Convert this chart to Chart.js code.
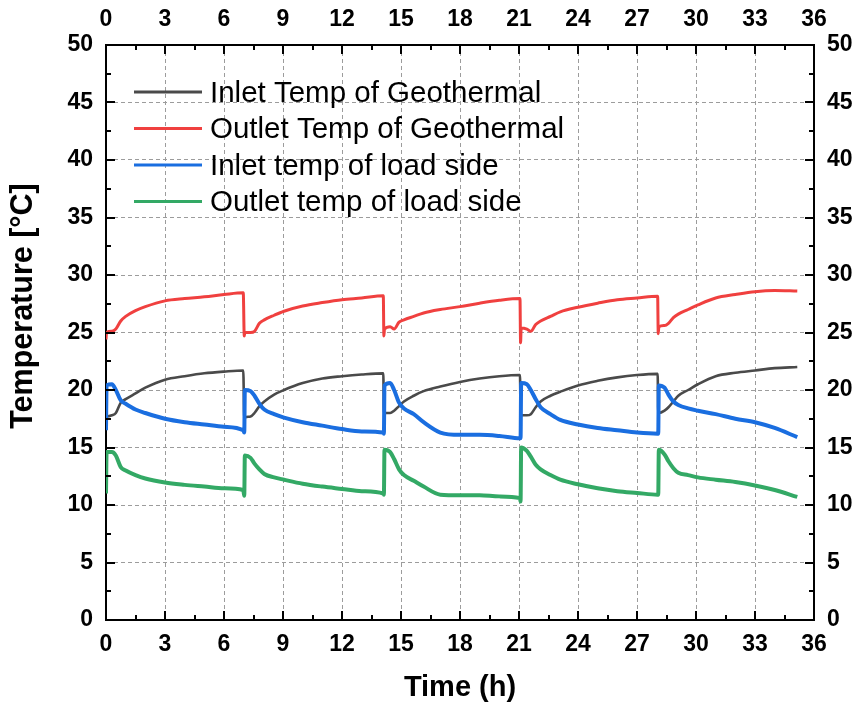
<!DOCTYPE html>
<html>
<head>
<meta charset="utf-8">
<title>Temperature vs Time</title>
<script src="https://cdn.jsdelivr.net/npm/chart.js@4.4.0/dist/chart.umd.min.js"></script>
<style>
  html, body { margin: 0; padding: 0; background: #fff; }
  #wrap { width: 856px; height: 705px; }
</style>
</head>
<body>
<div id="wrap"><canvas id="tempChart" width="856" height="705"></canvas></div>
<script>
// sample times in hours, five 7-hour cycles
const times = [
  0, 0.03, 0.3, 0.5, 0.75, 1.0, 1.5, 2, 3, 4, 5, 6, 6.98,
  7.03, 7.06, 7.35, 7.55, 7.8, 8.05, 8.55, 9.05, 10, 11, 12, 13, 14.1,
  14.13, 14.16, 14.45, 14.65, 14.9, 15.15, 15.65, 16.15, 17, 18, 19, 20, 21.05,
  21.08, 21.11, 21.4, 21.6, 21.85, 22.1, 22.6, 23.1, 24, 25, 26, 27, 28.05,
  28.08, 28.11, 28.4, 28.6, 28.85, 29.1, 29.6, 30.1, 31, 32, 33, 34, 35.15
];

const inletGeo = [
  17.7, 17.7, 17.8, 18.0, 18.9, 19.2, 19.7, 20.2, 20.9, 21.2, 21.45, 21.6, 21.7,
  17.5, 17.6, 17.7, 18.0, 18.6, 19.0, 19.6, 20.0, 20.6, 21.0, 21.2, 21.35, 21.45,
  18.0, 18.0, 18.0, 18.2, 18.6, 19.0, 19.5, 19.9, 20.3, 20.7, 21.0, 21.2, 21.3,
  17.9, 17.8, 17.8, 17.9, 18.5, 19.0, 19.5, 19.85, 20.4, 20.8, 21.1, 21.3, 21.4,
  18.0, 18.0, 18.2, 18.5, 19.0, 19.5, 20.0, 20.5, 21.2, 21.5, 21.7, 21.9, 22.0
];

const outletGeo = [
  24.4, 25.0, 25.1, 25.3, 26.0, 26.4, 26.9, 27.25, 27.75, 27.95, 28.1, 28.3, 28.45,
  24.7, 25.0, 25.0, 25.1, 25.8, 26.1, 26.5, 26.85, 27.3, 27.6, 27.85, 28.0, 28.2,
  24.7, 25.3, 25.5, 25.3, 25.9, 26.1, 26.4, 26.7, 27.0, 27.25, 27.55, 27.8, 27.95,
  24.1, 25.4, 25.3, 25.1, 25.7, 26.0, 26.4, 26.8, 27.2, 27.55, 27.85, 28.0, 28.15,
  24.9, 25.5, 25.6, 25.8, 26.3, 26.6, 27.0, 27.4, 28.0, 28.3, 28.55, 28.65, 28.6
];

const inletLoad = [
  16.5, 20.4, 20.5, 20.0, 19.1, 18.8, 18.3, 18.0, 17.5, 17.2, 17.0, 16.8, 16.5,
  16.3, 20.0, 19.9, 19.5, 18.8, 18.3, 17.9, 17.6, 17.2, 16.9, 16.6, 16.4, 16.3,
  16.2, 20.4, 20.6, 20.0, 18.9, 18.4, 17.9, 17.2, 16.3, 16.1, 16.1, 16.0, 15.8,
  15.8, 20.6, 20.5, 20.0, 19.2, 18.5, 17.9, 17.4, 17.0, 16.7, 16.5, 16.3, 16.2,
  16.2, 20.4, 20.2, 19.6, 19.0, 18.7, 18.4, 18.2, 17.9, 17.5, 17.2, 16.7, 15.9
];

const outletLoad = [
  11.0, 14.6, 14.6, 14.3, 13.3, 13.0, 12.6, 12.3, 11.95, 11.75, 11.6, 11.45, 11.3,
  10.8, 14.3, 14.1, 13.6, 13.1, 12.7, 12.4, 12.2, 11.85, 11.6, 11.4, 11.2, 11.0,
  10.9, 14.8, 14.6, 14.0, 13.1, 12.6, 12.1, 11.6, 10.9, 10.85, 10.85, 10.75, 10.6,
  10.3, 15.0, 14.7, 14.2, 13.5, 13.1, 12.6, 12.2, 11.8, 11.45, 11.2, 11.05, 10.9,
  10.9, 14.8, 14.4, 13.8, 13.2, 12.8, 12.6, 12.4, 12.2, 12.0, 11.7, 11.3, 10.7
];

const seriesNames = [
  'Inlet Temp of Geothermal',
  'Outlet Temp of Geothermal',
  'Inlet temp of load side',
  'Outlet temp of load side'
];
const seriesColors = ['#4a4a4a', '#f0403f', '#1a6ee0', '#33a965'];
const seriesWidths = [2.6, 3, 4, 4];

const hourTicks = [0, 3, 6, 9, 12, 15, 18, 21, 24, 27, 30, 33, 36];
const tempTicks = [0, 5, 10, 15, 20, 25, 30, 35, 40, 45, 50];

Chart.defaults.font.family = "'Liberation Sans', Arial, sans-serif";
Chart.defaults.color = '#000';

const allSeries = [inletGeo, outletGeo, inletLoad, outletLoad];
const drawOrder = [3, 2, 1, 0];

const datasets = allSeries.map((vals, i) => ({
  label: seriesNames[i],
  data: times.map((t, k) => ({ x: t, y: vals[k] })),
  borderColor: seriesColors[i],
  borderWidth: seriesWidths[i],
  pointRadius: 0,
  cubicInterpolationMode: 'monotone',
  order: drawOrder[i]
}));

const tickFont = { size: 23, weight: 'bold' };
const hideEdges = (lo, hi) => ctx =>
  (ctx.tick && (ctx.tick.value === lo || ctx.tick.value === hi)) ? 'rgba(0,0,0,0)' : '#9c9c9c';

function fixedTicks(list) {
  return scale => { scale.ticks = list.map(v => ({ value: v })); };
}

// short tick marks pointing into the plot on all four sides
const innerTicks = {
  id: 'innerTicks',
  afterDraw(chart) {
    const { ctx, chartArea: a, scales } = chart;
    ctx.save();
    ctx.strokeStyle = '#000';
    ctx.lineWidth = 2;
    ctx.beginPath();
    for (let i = 0; i < hourTicks.length; i++) {
      const major = hourTicks[i];
      const spots = [[major, 9]];
      if (i < hourTicks.length - 1) spots.push([(major + hourTicks[i + 1]) / 2, 5]);
      spots.forEach(([v, len]) => {
        const px = Math.round(scales.x.getPixelForValue(v));
        ctx.moveTo(px, a.bottom); ctx.lineTo(px, a.bottom - len);
        ctx.moveTo(px, a.top); ctx.lineTo(px, a.top + len);
      });
    }
    for (let i = 0; i < tempTicks.length; i++) {
      const major = tempTicks[i];
      const spots = [[major, 9]];
      if (i < tempTicks.length - 1) spots.push([(major + tempTicks[i + 1]) / 2, 5]);
      spots.forEach(([v, len]) => {
        const py = Math.round(scales.y.getPixelForValue(v));
        ctx.moveTo(a.left, py); ctx.lineTo(a.left + len, py);
        ctx.moveTo(a.right, py); ctx.lineTo(a.right - len, py);
      });
    }
    ctx.stroke();
    ctx.restore();
  }
};

// legend block in the upper left of the plot, plus the vertical axis title
const insideLegend = {
  id: 'insideLegend',
  afterDraw(chart) {
    const { ctx } = chart;
    const x0 = 134, x1 = 202, tx = 210, y0 = 92, gap = 36.5;
    ctx.save();
    ctx.font = "29.5px 'Liberation Sans', Arial, sans-serif";
    ctx.textBaseline = 'middle';
    ctx.fillStyle = '#000';
    seriesNames.forEach((name, i) => {
      const y = y0 + i * gap;
      ctx.strokeStyle = seriesColors[i];
      ctx.lineWidth = 3;
      ctx.beginPath();
      ctx.moveTo(x0, y); ctx.lineTo(x1, y);
      ctx.stroke();
      ctx.fillText(name, tx, y + 1.5);
    });

    ctx.translate(24, 306);
    ctx.rotate(-Math.PI / 2);
    ctx.textAlign = 'center';
    ctx.font = "bold 30.5px 'Liberation Sans', Arial, sans-serif";
    ctx.fillText('Temperature [°C]', 0, 0);
    ctx.restore();
  }
};

new Chart(document.getElementById('tempChart'), {
  type: 'line',
  data: { datasets },
  options: {
    responsive: false,
    animation: false,
    devicePixelRatio: 1,
    layout: { padding: 0 },
    plugins: { legend: { display: false }, tooltip: { enabled: false } },
    scales: {
      x: {
        type: 'linear', position: 'bottom', min: 0, max: 36,
        afterBuildTicks: fixedTicks(hourTicks),
        afterFit: s => { s.height = 85; },
        ticks: { font: tickFont, padding: 11, maxRotation: 0 },
        grid: { color: hideEdges(0, 36), lineWidth: 1, drawTicks: false },
        border: { color: '#000', width: 2, dash: [4, 3] },
        title: { display: true, text: 'Time (h)', font: { size: 29, weight: 'bold' }, padding: { bottom: 0 } }
      },
      x2: {
        type: 'linear', position: 'top', min: 0, max: 36,
        afterBuildTicks: fixedTicks(hourTicks),
        afterFit: s => { s.height = 45; },
        ticks: { font: tickFont, padding: 12, maxRotation: 0 },
        grid: { display: false, drawTicks: false },
        border: { color: '#000', width: 2 }
      },
      y: {
        type: 'linear', position: 'left', min: 0, max: 50,
        afterBuildTicks: fixedTicks(tempTicks),
        afterFit: s => { s.width = 106; },
        ticks: { font: tickFont, padding: 13 },
        grid: { color: hideEdges(0, 50), lineWidth: 1, drawTicks: false },
        border: { color: '#000', width: 2, dash: [4, 3] }
      },
      y2: {
        type: 'linear', position: 'right', min: 0, max: 50,
        afterBuildTicks: fixedTicks(tempTicks),
        afterFit: s => { s.width = 42; },
        ticks: { font: tickFont, padding: 13 },
        grid: { display: false, drawTicks: false },
        border: { color: '#000', width: 2 }
      }
    }
  },
  plugins: [innerTicks, insideLegend]
});
</script>
</body>
</html>
